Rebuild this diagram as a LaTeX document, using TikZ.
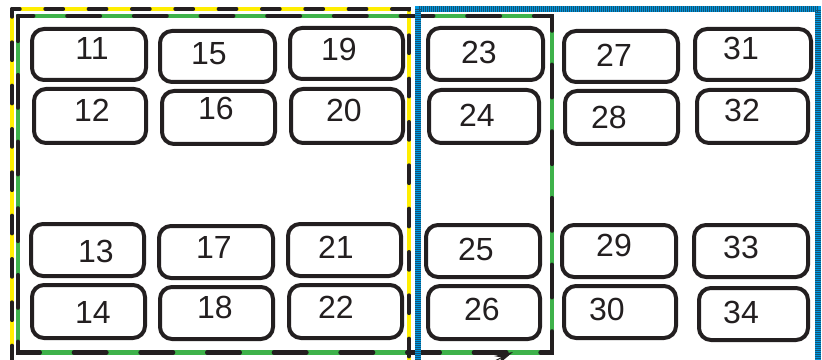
\documentclass[tikz,border=0pt]{standalone}
\usepackage{fontspec}
\setmainfont{Liberation Sans}
\usetikzlibrary{arrows.meta}

\definecolor{ink}{RGB}{35,31,32}
\definecolor{sun}{RGB}{255,238,0}
\definecolor{lime}{RGB}{62,178,74}
\definecolor{sky}{RGB}{0,150,222}

\tikzset{every picture/.style={line width=0.75pt}}
\tikzset{
  cell/.style={draw=ink, line width=3pt, rounded corners=9pt, fill=white, inner sep=0pt},
  num/.style={inner sep=0.75pt, text=ink, font=\fontsize{24}{28}\selectfont},
  sunline/.style={draw=sun, line width=3pt},
  limeline/.style={draw=lime, line width=3.4pt},
  skyline/.style={draw=sky, line width=3.9pt},
  yellowdash/.style={draw=ink, line width=3pt, line cap=round, dash pattern=on 13.3pt off 19.2pt, dash phase=7.5pt},
  greendash/.style={draw=ink, line width=3.2pt, line cap=round, dash pattern=on 24.5pt off 25.5pt, dash phase=13pt},
  skydash/.style={draw=ink, line width=3.9pt, draw opacity=0.55, dash pattern=on 0.45pt off 1.05pt}
}

\begin{document}
\begin{tikzpicture}[x=0.75pt,y=0.75pt,yscale=-1,xscale=1]
\useasboundingbox (0,0) rectangle (822,360);
\clip (0,0) rectangle (822,360);

%Yellow frame
\draw[sunline] (12,9) -- (409,9) -- (409,372) (12,9) -- (12,372);
\draw[yellowdash] (12,9) -- (409,9) -- (409,372);
\draw[yellowdash] (12,9) -- (12,372);
%Green frame
\draw[limeline] (18,16) -- (552,16) -- (552,352.5) -- (18,352.5) -- cycle;
\draw[greendash] (18,16) -- (552,16) -- (552,352.5) -- (18,352.5) -- cycle;
%Blue frame
\draw[skyline] (418,372) -- (418,9) -- (818,9) -- (818,372);
\draw[skydash] (418,372) -- (418,9) -- (818,9) -- (818,372);

%Rounded Rect
\node[cell, minimum width=114*0.75pt, minimum height=51*0.75pt] (c11) at (89,54.5) {};
\node[cell, minimum width=112*0.75pt, minimum height=54*0.75pt] (c12) at (90,116) {};
\node[cell, minimum width=113*0.75pt, minimum height=52*0.75pt] (c13) at (87.5,250) {};
\node[cell, minimum width=113*0.75pt, minimum height=53*0.75pt] (c14) at (88.5,311.5) {};
%Rounded Rect
\node[cell, minimum width=115*0.75pt, minimum height=51*0.75pt] (c15) at (217.5,56.5) {};
\node[cell, minimum width=113*0.75pt, minimum height=53*0.75pt] (c16) at (218.5,117.5) {};
\node[cell, minimum width=114*0.75pt, minimum height=52*0.75pt] (c17) at (216,252) {};
\node[cell, minimum width=113*0.75pt, minimum height=52*0.75pt] (c18) at (216.5,313) {};
%Rounded Rect
\node[cell, minimum width=113*0.75pt, minimum height=51*0.75pt] (c19) at (346.5,53.5) {};
\node[cell, minimum width=112*0.75pt, minimum height=54*0.75pt] (c20) at (347,116) {};
\node[cell, minimum width=113*0.75pt, minimum height=52*0.75pt] (c21) at (344.5,250) {};
\node[cell, minimum width=113*0.75pt, minimum height=53*0.75pt] (c22) at (345.5,311.5) {};
%Rounded Rect
\node[cell, minimum width=115*0.75pt, minimum height=52*0.75pt] (c23) at (485.5,54) {};
\node[cell, minimum width=110*0.75pt, minimum height=53*0.75pt] (c24) at (484,116.5) {};
\node[cell, minimum width=114*0.75pt, minimum height=52*0.75pt] (c25) at (483,251) {};
\node[cell, minimum width=112*0.75pt, minimum height=53*0.75pt] (c26) at (484,312.5) {};
%Rounded Rect
\node[cell, minimum width=114*0.75pt, minimum height=51*0.75pt] (c27) at (621,56.5) {};
\node[cell, minimum width=113*0.75pt, minimum height=53*0.75pt] (c28) at (621.5,117.5) {};
\node[cell, minimum width=114*0.75pt, minimum height=52*0.75pt] (c29) at (619,251) {};
\node[cell, minimum width=112*0.75pt, minimum height=52*0.75pt] (c30) at (620,312) {};
%Rounded Rect
\node[cell, minimum width=116*0.75pt, minimum height=51*0.75pt] (c31) at (753,54.5) {};
\node[cell, minimum width=111*0.75pt, minimum height=53*0.75pt] (c32) at (752.5,116.5) {};
\node[cell, minimum width=114*0.75pt, minimum height=52*0.75pt] (c33) at (751,251) {};
\node[cell, minimum width=109*0.75pt, minimum height=52*0.75pt] (c34) at (753.5,314) {};

% Text Node
\node[num] (t11) at (92,48) {11};
\node[num] (t12) at (92,110) {12};
\node[num] (t13) at (96,251) {13};
\node[num] (t14) at (93,312) {14};
% Text Node
\node[num] (t15) at (209,54) {15};
\node[num] (t16) at (216,108) {16};
\node[num] (t17) at (214,247) {17};
\node[num] (t18) at (215,307) {18};
% Text Node
\node[num] (t19) at (339,49) {19};
\node[num] (t20) at (344,110) {20};
\node[num] (t21) at (336,247) {21};
\node[num] (t22) at (336,307) {22};
% Text Node
\node[num] (t23) at (479,52) {23};
\node[num] (t24) at (477,115) {24};
\node[num] (t25) at (476,249) {25};
\node[num] (t26) at (482,309) {26};
% Text Node
\node[num] (t27) at (614,55) {27};
\node[num] (t28) at (609,117) {28};
\node[num] (t29) at (614,245) {29};
\node[num] (t30) at (607,309) {30};
% Text Node
\node[num] (t31) at (741,48) {31};
\node[num] (t32) at (742,110) {32};
\node[num] (t33) at (741,247) {33};
\node[num] (t34) at (741,312) {34};

%Arrow into the green frame
\coordinate (feed) at (468,374);
\coordinate (entry) at (513,352);
\draw[ink, -{Stealth[length=14pt,width=7pt]}] (feed) -- (entry);

\end{tikzpicture}
\end{document}
